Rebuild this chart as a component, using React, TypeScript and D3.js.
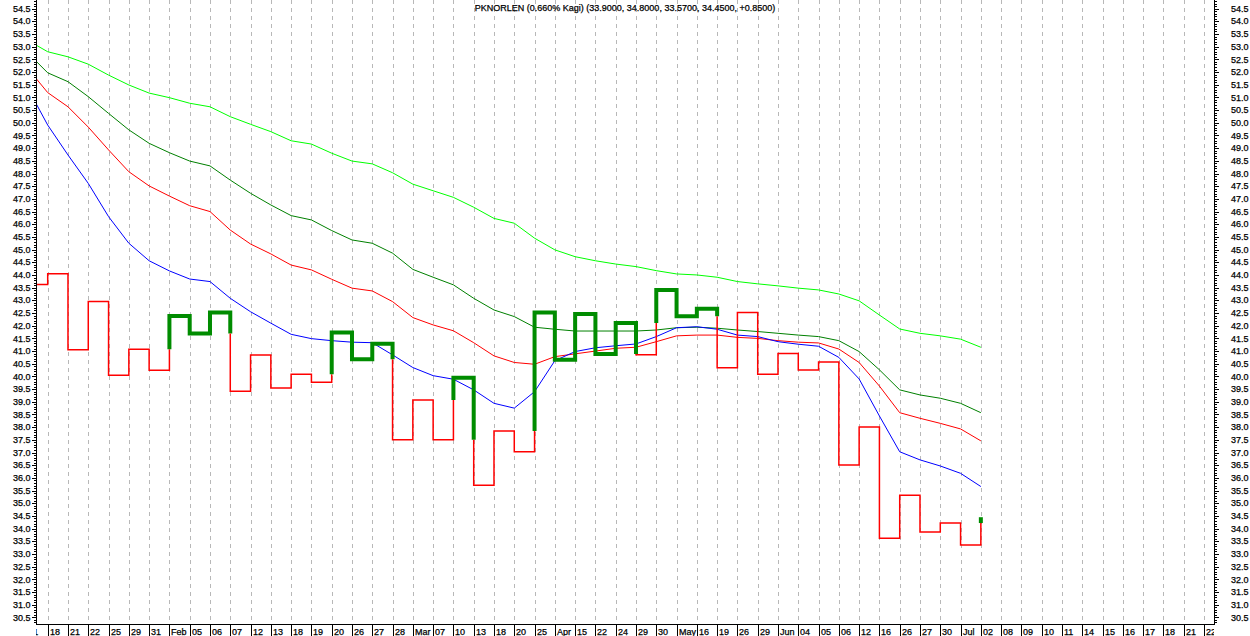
import React from "react";
import * as d3 from "d3";

const W = 1250;
const H = 636;

const TITLE = "PKNORLEN (0.660% Kagi)  (33.9000, 34.8000, 33.5700, 34.4500, +0.8500)";

// x-axis labels, one per Kagi slot (slot 0 .. 57)
const xLabels = [
  "18", "21", "22", "25", "29", "31",
  "Feb", "05", "06", "07", "12", "13", "18", "19", "20", "26", "27", "28",
  "Mar", "07", "10", "13", "18", "20", "25",
  "Apr", "15", "22", "24", "29", "30",
  "May", "16", "19", "26", "29",
  "Jun", "04", "05", "06", "12", "16", "26", "27", "30",
  "Jul", "02", "08", "09", "10", "11", "14", "15", "16", "17", "18", "21", "22",
];
// label of the slot just before the first one (clipped by the axis)
const preLabel = "11";

// Kagi: starting price (slot -1) and the price reached at each slot 0..46
const kagiStart = 43.62;
const kagiLevels = [
  44.05, 41.05, 42.95, 40.05, 41.07, 40.24, 42.38, 41.69, 42.52, 39.42,
  40.84, 39.54, 40.09, 39.77, 41.73, 40.68, 41.29, 37.5, 39.07, 37.5,
  39.95, 35.71, 37.85, 37.03, 42.52, 40.66, 42.46, 40.88, 42.11, 40.85,
  43.41, 42.37, 42.67, 40.34, 42.52, 40.09, 40.9, 40.25, 40.57, 36.51,
  38.01, 33.62, 35.32, 33.87, 34.22, 33.35, 34.45,
];

// moving averages at slots -1 .. 46
const maBlue = [
  51.39, 49.91, 48.73, 47.61, 46.3, 45.25, 44.56, 44.16, 43.84, 43.74,
  43.08, 42.55, 42.1, 41.66, 41.49, 41.41, 41.35, 41.33, 40.85, 40.35,
  40.03, 39.89, 39.47, 38.94, 38.75, 39.4, 40.62, 40.98, 41.13, 41.21,
  41.28, 41.57, 41.92, 41.96, 41.86, 41.63, 41.57, 41.37, 41.27, 41.19,
  40.75, 39.9, 38.44, 37.03, 36.71, 36.47, 36.18, 35.66,
];
const maRed = [
  52.16, 51.19, 50.63, 49.83, 48.93, 48.07, 47.51, 47.11, 46.73, 46.5,
  45.77, 45.22, 44.83, 44.39, 44.2, 43.83, 43.48, 43.37, 42.95, 42.32,
  42.03, 41.8, 41.33, 40.81, 40.55, 40.48, 40.78, 40.89, 41.0, 41.11,
  41.15, 41.37, 41.6, 41.63, 41.63, 41.54, 41.5, 41.41, 41.35, 41.32,
  41.08, 40.55, 39.62, 38.57, 38.35, 38.15, 37.93, 37.46,
];
const maDarkGreen = [
  52.77, 51.97, 51.62, 51.03, 50.37, 49.72, 49.19, 48.82, 48.49, 48.3,
  47.74, 47.22, 46.76, 46.34, 46.17, 45.75, 45.38, 45.25, 44.86, 44.22,
  43.91, 43.61, 43.08, 42.62, 42.36, 41.94, 41.86, 41.79, 41.79, 41.79,
  41.79, 41.83, 41.92, 41.94, 41.9, 41.83, 41.77, 41.7, 41.63, 41.57,
  41.41, 40.98, 40.26, 39.47, 39.27, 39.14, 38.94, 38.57,
];
const maLightGreen = [
  53.26, 52.8, 52.6, 52.31, 51.88, 51.49, 51.17, 50.99, 50.77, 50.63,
  50.24, 49.94, 49.65, 49.29, 49.16, 48.8, 48.49, 48.38, 48.03, 47.58,
  47.32, 47.06, 46.67, 46.23, 46.04, 45.45, 44.99, 44.72, 44.56, 44.43,
  44.33, 44.17, 44.04, 44.0, 43.91, 43.74, 43.65, 43.57, 43.48, 43.41,
  43.25, 42.98, 42.42, 41.87, 41.7, 41.6, 41.47, 41.15,
];

const PL = 36;
const PR = 1214;
const PT = 0;
const PB = 624;
const FONT = "'Liberation Sans', Arial, sans-serif";

type Seg = { yang: boolean; pts: [number, number][] };

function buildKagi(): Seg[] {
  const segs: Seg[] = [];
  let yang = false;
  let cur = kagiStart;
  let lastShoulder: number | null = null;
  let lastWaist: number | null = null;
  let seg: Seg = { yang, pts: [[-1, cur], [0, cur]] };
  segs.push(seg);
  kagiLevels.forEach((L, i) => {
    if (L > cur) {
      if (!yang && lastShoulder !== null && L > lastShoulder) {
        seg.pts.push([i, lastShoulder]);
        yang = true;
        seg = { yang, pts: [[i, lastShoulder]] };
        segs.push(seg);
      }
      seg.pts.push([i, L]);
      lastShoulder = L;
    } else {
      if (yang && lastWaist !== null && L < lastWaist) {
        seg.pts.push([i, lastWaist]);
        yang = false;
        seg = { yang, pts: [[i, lastWaist]] };
        segs.push(seg);
      }
      seg.pts.push([i, L]);
      lastWaist = L;
    }
    if (i < kagiLevels.length - 1) seg.pts.push([i + 1, L]);
    cur = L;
  });
  return segs;
}

export default function App() {
  const x = d3.scaleLinear().domain([0, 57]).range([47.7, 1204]);
  const y = d3.scaleLinear().domain([30.24, 54.84]).range([PB, PT]);

  const minor = d3.range(303, 549).map((v) => v / 10);
  const major = d3.range(61, 110).map((v) => v / 2);

  const maLine = d3
    .line<number>()
    .x((_, i) => x(i - 1))
    .y((d) => y(d));
  const kLine = d3
    .line<[number, number]>()
    .x((d) => x(d[0]))
    .y((d) => y(d[1]));

  const segs = buildKagi();
  const slots = d3.range(0, xLabels.length);
  const textStroke = { stroke: "#000", strokeWidth: 0.25 };

  return (
    <svg
      width={W}
      height={H}
      style={{ position: "absolute", left: 0, top: 0, background: "#fff" }}
      fontFamily={FONT}
    >
      <defs>
        <clipPath id="plot">
          <rect x={PL} y={PT} width={PR - PL} height={PB - PT} />
        </clipPath>
        <clipPath id="xlab">
          <rect x={PL} y={PB} width={PR - PL} height={H - PB} />
        </clipPath>
      </defs>
      <rect x={0} y={0} width={W} height={H} fill="#fff" />

      {/* vertical dashed grid */}
      {slots.map((s) => (
        <line
          key={"g" + s}
          x1={Math.round(x(s)) + 0.5}
          x2={Math.round(x(s)) + 0.5}
          y1={PT}
          y2={PB}
          stroke="#b8b8b8"
          strokeWidth={1}
          strokeDasharray="4,4"
        />
      ))}

      {/* title */}
      <text x={(PL + PR) / 2} y={10.5} fontSize={9} textAnchor="middle" fill="#000" {...textStroke}>
        {TITLE}
      </text>

      {/* moving averages */}
      <g clipPath="url(#plot)" fill="none" strokeWidth={1}>
        <path d={maLine(maLightGreen) || ""} stroke="#00ff00" />
        <path d={maLine(maDarkGreen) || ""} stroke="#008000" />
        <path d={maLine(maRed) || ""} stroke="#ff0000" />
        <path d={maLine(maBlue) || ""} stroke="#0000ff" />
      </g>

      {/* kagi */}
      <g clipPath="url(#plot)" fill="none" strokeLinejoin="miter" strokeLinecap="butt">
        {segs.map((s, i) => (
          <path
            key={"k" + i}
            d={kLine(s.pts) || ""}
            stroke={s.yang ? "#008c00" : "#ff0000"}
            strokeWidth={s.yang ? 4 : 1.5}
          />
        ))}
      </g>

      {/* axes */}
      <g stroke="#000" strokeWidth={1} shapeRendering="crispEdges">
        <line x1={PL + 0.5} x2={PL + 0.5} y1={PT} y2={PB + 0.5} />
        <line x1={PR + 0.5} x2={PR + 0.5} y1={PT} y2={PB + 0.5} />
        <line x1={PL} x2={PR + 1} y1={PB + 0.5} y2={PB + 0.5} />
        {minor.map((v) => {
          const isMajor = Math.abs(v * 2 - Math.round(v * 2)) < 1e-6;
          const len = isMajor ? 4 : 2;
          const yy = Math.round(y(v)) + 0.5;
          return (
            <g key={"t" + v}>
              <line x1={PL - len} x2={PL} y1={yy} y2={yy} />
              <line x1={PR + 1} x2={PR + 1 + len} y1={yy} y2={yy} />
            </g>
          );
        })}
        {slots.map((s) => (
          <line
            key={"xt" + s}
            x1={Math.round(x(s)) + 0.5}
            x2={Math.round(x(s)) + 0.5}
            y1={PB}
            y2={H}
          />
        ))}
      </g>

      {/* y labels */}
      <g fontSize={9} fill="#000" {...textStroke}>
        {major.map((v) => (
          <g key={"yl" + v}>
            <text x={30.5} y={y(v)} dy="0.35em" textAnchor="end">
              {v.toFixed(1)}
            </text>
            <text x={1231} y={y(v)} dy="0.35em" textAnchor="start">
              {v.toFixed(1)}
            </text>
          </g>
        ))}
      </g>

      {/* x labels */}
      <g fontSize={9} fill="#000" clipPath="url(#xlab)" {...textStroke}>
        <text x={Math.round(x(-1)) + 2} y={634.5}>
          {preLabel}
        </text>
        {xLabels.map((l, i) => (
          <text key={"xl" + i} x={Math.round(x(i)) + 2} y={634.5}>
            {l}
          </text>
        ))}
      </g>
    </svg>
  );
}
